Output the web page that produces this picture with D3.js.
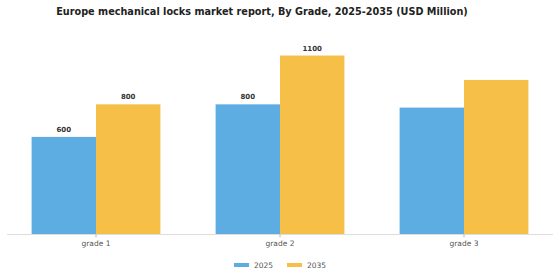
<!DOCTYPE html>
<html>
<head>
<meta charset="utf-8">
<script src="https://cdn.jsdelivr.net/npm/d3@7"></script>
<style>
  body { margin: 0; background: #fff; }
  svg { font-family: "DejaVu Sans", sans-serif; }
</style>
</head>
<body>
<svg id="chart" width="560" height="280"></svg>
<script>
// chart data
const grades = ['grade 1', 'grade 2', 'grade 3'];
const years = ['2025', '2035'];
const values2025 = [600, 800, 780];
const values2035 = [800, 1100, 950];
const labels2025 = ['600', '800', ''];
const labels2035 = ['800', '1100', ''];
const colors = ['#5DADE2', '#F5BF48'];

const svg = d3.select('#chart');
const baseline = 234.5;

const rows = grades.map((g, i) => ({
  grade: g,
  values: [
    { year: years[0], value: values2025[i], label: labels2025[i] },
    { year: years[1], value: values2035[i], label: labels2035[i] }
  ]
}));

const x = d3.scaleBand()
  .domain(grades)
  .range([4, 556])
  .paddingInner(0.3)
  .paddingOuter(0.15);

const xSub = d3.scaleBand()
  .domain(years)
  .range([0, x.bandwidth()]);

const y = d3.scaleLinear()
  .domain([0, 1200])
  .range([baseline, baseline - 1200 * 0.1627]);

const color = d3.scaleOrdinal().domain(years).range(colors);

// title
svg.append('text')
  .attr('x', 262)
  .attr('y', 14.5)
  .attr('text-anchor', 'middle')
  .attr('font-size', 9.7)
  .attr('font-weight', 'bold')
  .attr('fill', '#222')
  .text('Europe mechanical locks market report, By Grade, 2025-2035 (USD Million)');

// bars
const groups = svg.selectAll('.group')
  .data(rows)
  .join('g')
  .attr('class', 'group')
  .attr('transform', (d) => `translate(${x(d.grade)},0)`);

groups.selectAll('rect')
  .data((d) => d.values)
  .join('rect')
  .attr('x', (d) => xSub(d.year))
  .attr('width', xSub.bandwidth())
  .attr('y', (d) => y(d.value))
  .attr('height', (d) => y(0) - y(d.value))
  .attr('fill', (d) => color(d.year));

groups.selectAll('.value')
  .data((d) => d.values)
  .join('text')
  .attr('class', 'value')
  .attr('x', (d) => xSub(d.year) + xSub.bandwidth() / 2)
  .attr('y', (d) => y(d.value) - 5)
  .attr('text-anchor', 'middle')
  .attr('font-size', 7)
  .attr('font-weight', 'bold')
  .attr('fill', '#333')
  .text((d) => d.label);

// x axis
const xAxis = svg.append('g')
  .attr('transform', `translate(0,${baseline})`)
  .call(d3.axisBottom(x).tickSize(3).tickSizeOuter(0));

xAxis.select('.domain')
  .attr('d', 'M7,0H553')
  .attr('stroke', '#ddd');
xAxis.selectAll('.tick line').attr('stroke', '#bbb');
xAxis.selectAll('.tick text')
  .attr('y', 6)
  .attr('font-size', 7.5)
  .attr('font-family', '"DejaVu Sans", sans-serif')
  .attr('fill', '#555');

// legend
const legendX = [234, 287];
const legend = svg.selectAll('.legend')
  .data(years)
  .join('g')
  .attr('class', 'legend')
  .attr('transform', (d, i) => `translate(${legendX[i]},265)`);

legend.append('rect')
  .attr('x', 0)
  .attr('y', -2)
  .attr('width', 15)
  .attr('height', 4)
  .attr('fill', (d) => color(d));

legend.append('text')
  .attr('x', 20)
  .attr('y', 3)
  .attr('font-size', 7.5)
  .attr('fill', '#555')
  .text((d) => d);
</script>
</body>
</html>
